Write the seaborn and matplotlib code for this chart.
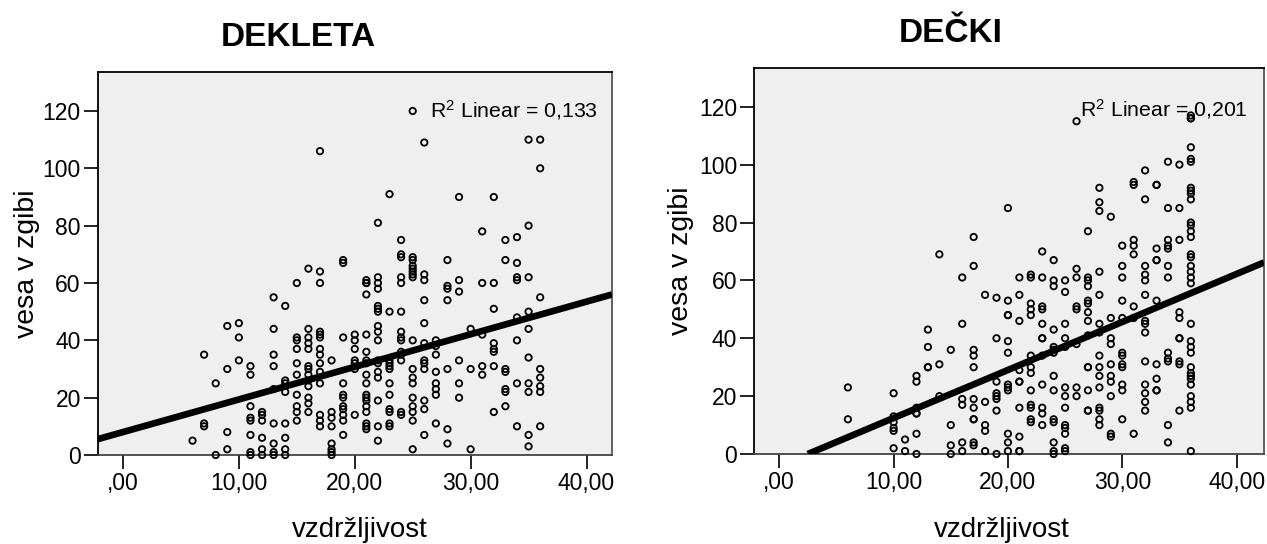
import pandas as pd
import seaborn as sns
import matplotlib
matplotlib.use('Agg')
import matplotlib.pyplot as plt

# x value of every column of points in both plots
vzdrzljivost = list(range(6, 37))

# girls: y values per column
dekleta = [
    [5],
    [35, 11, 10],
    [25, 0],
    [45, 30, 8, 2],
    [46, 41, 33],
    [31, 28, 17, 13, 12, 7, 1, 0],
    [15, 14, 12, 6, 2, 0],
    [55, 44, 35, 31, 23, 11, 4, 1, 0],
    [52, 26, 25, 22, 11, 6, 2, 0],
    [60, 41, 40, 37, 32, 28, 21, 17, 15, 12],
    [65, 44, 41, 39, 37, 31, 30, 28, 26, 24, 20, 18, 15],
    [106, 64, 60, 43, 42, 41, 37, 35, 32, 29, 25, 14, 12, 10],
    [33, 15, 13, 10, 4, 2, 1, 0],
    [68, 67, 41, 25, 21, 20, 17, 16, 14, 12, 7],
    [42, 40, 37, 33, 32, 30, 14],
    [61, 60, 60, 56, 42, 36, 33, 32, 28, 25, 21, 20, 19, 17, 15, 11, 10, 9],
    [81, 62, 60, 58, 52, 51, 50, 45, 43, 40, 33, 32, 29, 27, 19, 10, 5],
    [91, 50, 33, 32, 31, 30, 25, 21, 16, 15, 11, 10],
    [75, 70, 69, 62, 60, 50, 43, 41, 40, 36, 35, 33, 15, 14],
    [120, 69, 68, 66, 65, 64, 63, 62, 40, 30, 27, 25, 20, 17, 15, 12, 2],
    [109, 63, 61, 54, 46, 39, 33, 32, 30, 19, 16, 7],
    [40, 38, 35, 29, 25, 23, 21, 11],
    [68, 59, 58, 54, 30, 9, 4],
    [90, 61, 57, 33, 25, 20],
    [44, 30, 2],
    [78, 60, 42, 31, 28],
    [90, 60, 51, 39, 37, 36, 31, 15],
    [75, 68, 30, 29, 23, 22, 17],
    [76, 67, 62, 61, 48, 40, 25, 10],
    [110, 80, 62, 50, 44, 34, 25, 22, 7, 3],
    [110, 100, 55, 30, 27, 24, 22, 10],
]

# boys: same idea
decki = [
    [23, 12],
    [],
    [],
    [],
    [21, 13, 11, 9, 8, 2],
    [5, 1],
    [27, 25, 16, 14, 14, 7, 0],
    [43, 37, 30, 30],
    [69, 31, 20],
    [36, 10, 3, 0],
    [61, 45, 19, 17, 4, 1],
    [75, 65, 36, 34, 30, 19, 16, 12, 12, 4, 3],
    [55, 18, 10, 8, 1],
    [54, 40, 25, 21, 20, 19, 15, 0],
    [85, 53, 48, 48, 39, 35, 24, 23, 22, 7, 4, 1],
    [61, 55, 46, 29, 25, 25, 16, 6, 1, 1],
    [62, 61, 52, 50, 48, 34, 30, 28, 22, 17, 16, 12, 11],
    [70, 61, 51, 50, 45, 40, 40, 34, 24, 16, 14, 10],
    [67, 60, 58, 43, 37, 36, 35, 27, 22, 12, 11, 4, 1, 0],
    [60, 56, 45, 40, 37, 23, 20, 16, 10, 9, 7, 2, 1],
    [115, 64, 61, 51, 50, 38, 23, 20],
    [77, 61, 60, 58, 53, 52, 49, 46, 41, 30, 30, 22, 15, 15],
    [92, 87, 84, 63, 55, 45, 42, 34, 30, 27, 23, 16, 15, 12, 10],
    [82, 47, 40, 38, 31, 27, 25, 20, 7, 6],
    [72, 65, 61, 53, 47, 35, 34, 31, 30, 24, 22, 12],
    [94, 93, 74, 72, 69, 51, 47, 7],
    [98, 88, 65, 62, 60, 55, 46, 45, 42, 32, 24, 21, 18, 15],
    [93, 93, 71, 67, 67, 53, 31, 26, 22, 22],
    [101, 85, 74, 72, 71, 65, 61, 35, 33, 32, 10, 4],
    [100, 85, 74, 49, 47, 40, 40, 32, 31, 15],
    [117, 116, 116, 106, 102, 101, 92, 91, 90, 88, 80, 79, 77, 75, 69, 68, 65, 63, 61, 59,
     45, 39, 37, 35, 30, 28, 27, 26, 24, 20, 18, 16, 1],
]

# regression lines as drawn in the picture
fit_dekleta_x = [-2.2, 42.2]
fit_dekleta_y = [5.5, 56]
fit_decki_x = [2.5, 42.4]
fit_decki_y = [0, 66.2]

x_ticks = [0, 10, 20, 30, 40]
x_labels = [',00', '10,00', '20,00', '30,00', '40,00']
y_ticks = [0, 20, 40, 60, 80, 100, 120]

sns.set_style('ticks')
plt.rcParams['font.family'] = ['Liberation Sans', 'DejaVu Sans']
plt.rcParams['mathtext.default'] = 'regular'
plt.rcParams['text.color'] = 'black'
plt.rcParams['axes.labelcolor'] = 'black'
plt.rcParams['xtick.labelcolor'] = 'black'
plt.rcParams['ytick.labelcolor'] = 'black'

W, H = 1267, 544
fig = plt.figure(figsize=(W / 100, H / 100), dpi=100)


def long_table(columns):
    rows = [(x, y) for x, ys in zip(vzdrzljivost, columns) for y in ys]
    return pd.DataFrame(rows, columns=['x', 'y'])


def panel(box, columns, fit_x, fit_y, xlim, ylim, title, title_xy, r2, r2_xy, ylab_x, xlab_x):
    left, top, right, bottom = box
    ax = fig.add_axes([left / W, 1 - bottom / H, (right - left) / W, (bottom - top) / H])
    ax.set_facecolor('#EFEFEF')
    sns.scatterplot(data=long_table(columns), x='x', y='y', ax=ax, s=21, marker='o',
                    facecolor='none', edgecolor='black', linewidth=1.3,
                    clip_on=False, zorder=3)
    sns.lineplot(x=fit_x, y=fit_y, ax=ax, color='black', linewidth=4.8, zorder=4,
                 solid_capstyle='butt', errorbar=None)
    ax.set_xlim(xlim)
    ax.set_ylim(ylim)
    ax.set_xticks(x_ticks, x_labels)
    ax.set_yticks(y_ticks)
    ax.tick_params(axis='both', length=10, width=1.3, labelsize=16.5, color='#111111', pad=2)
    for side in ax.spines:
        ax.spines[side].set_linewidth(1.3)
    ax.spines['top'].set_color('black')
    ax.spines['left'].set_color('black')
    ax.spines['right'].set_color('#555555')
    ax.spines['bottom'].set_color('#444444')
    ax.set_xlabel('vzdržljivost', fontsize=20, va='center')
    ax.set_ylabel('vesa v zgibi', fontsize=20.5, va='center')
    ax.xaxis.set_label_coords((xlab_x - left) / (right - left), (bottom - 530) / (bottom - top))
    ax.yaxis.set_label_coords((ylab_x - left) / (right - left), 0.5)
    fig.text(title_xy[0] / W, 1 - title_xy[1] / H, title, fontsize=24, fontweight='bold',
             ha='center', va='center')
    fig.text(r2_xy[0] / W, 1 - r2_xy[1] / H, r2, fontsize=15.3, ha='left', va='baseline',
             zorder=5)


panel((97.5, 72, 612, 455), dekleta, fit_dekleta_x, fit_dekleta_y, (-2.2, 42.2), (0, 133.6),
      'DEKLETA', (298, 38), 'R$^2$ Linear = 0,133', (430, 117), 27, 360)
panel((753.7, 68, 1264, 454), decki, fit_decki_x, fit_decki_y, (-2.24, 42.4), (0, 133.4),
      'DEČKI', (951, 34), 'R$^2$ Linear = 0,201', (1080, 116), 681, 1002)

fig.savefig('out.png', dpi=100)
